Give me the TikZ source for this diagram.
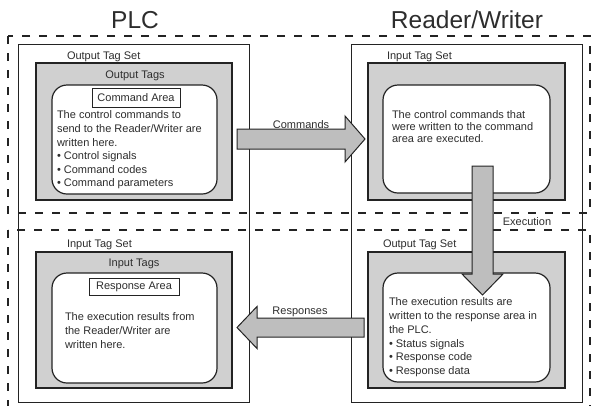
\documentclass[tikz,border=0pt]{standalone}
\usepackage{fontspec}
\setmainfont{Liberation Sans}
\usetikzlibrary{calc}
\definecolor{boxgray}{RGB}{208,208,208}
\definecolor{arrowgray}{RGB}{190,190,190}
\definecolor{txt}{RGB}{45,45,45}
\definecolor{ln}{RGB}{35,35,35}
\begin{document}
\begin{tikzpicture}[x=1pt,y=-1pt,
  every node/.style={inner sep=0pt, outer sep=0pt, text=txt},
  bodytext/.style={font=\fontsize{11}{13.6}\selectfont, align=left, anchor=north west},
  lbl/.style={font=\fontsize{11}{13}\selectfont, anchor=base west},
  ttl/.style={font=\fontsize{24.5}{28}\selectfont, anchor=base},
  tagset/.style={draw=ln, line width=0.8pt, anchor=north west},
  graybox/.style={draw=ln, fill=boxgray, line width=1.3pt, anchor=north west},
  roundbox/.style={draw=ln, fill=white, line width=1.2pt, rounded corners=15pt, anchor=north west},
  areabox/.style={draw=ln, fill=white, line width=1pt, font=\fontsize{11}{13}\selectfont},
  dashbox/.style={draw=ln, line width=1.1pt, dash pattern=on 8pt off 9pt},
  blockarrow/.style={draw=ln, fill=arrowgray, line width=1pt, line join=miter}]
\useasboundingbox (0,0) rectangle (593,405);
\clip (0,0) rectangle (593,405);
% titles
\node[ttl] (tplc) at (135,28) {PLC};
\node[ttl] (trw) at (467,28) {Reader/Writer};
% dashed boxes
\draw[dashbox] (8,36) rectangle (590,213);
\draw[dashbox] (8,230) rectangle (590,430);
% outer tag-set boxes
\node[tagset, minimum width=231pt, minimum height=358pt] (plcbox) at (18,44) {};
\node[tagset, minimum width=231pt, minimum height=358pt] (rwbox) at (351,44) {};
% labels
\node[lbl] (l1) at (67,59) {Output Tag Set};
\node[lbl] (l2) at (387,59) {Input Tag Set};
\node[lbl] (l3) at (67,247) {Input Tag Set};
\node[lbl] (l4) at (383,247) {Output Tag Set};
% gray boxes
\node[graybox, minimum width=196pt, minimum height=137pt] (tlg) at (36,63) {};
\node[graybox, minimum width=196pt, minimum height=136pt] (blg) at (36,252) {};
\node[graybox, minimum width=197pt, minimum height=137pt] (trg) at (368,63) {};
\node[graybox, minimum width=197pt, minimum height=136pt] (brg) at (368,252) {};
\node[lbl, anchor=base] (otags) at (135,78) {Output Tags};
\node[lbl, anchor=base] (itags) at (134,266) {Input Tags};
% rounded boxes
\node[roundbox, minimum width=165pt, minimum height=109pt] (tlr) at (52,85) {};
\node[roundbox, minimum width=165pt, minimum height=110pt] (blr) at (52,273) {};
\node[roundbox, minimum width=167pt, minimum height=108pt] (trr) at (383,85) {};
\node[roundbox, minimum width=167pt, minimum height=109pt] (brr) at (383,273) {};
% area boxes
\node[areabox, minimum width=88pt, minimum height=19pt] (cmdarea) at (136,97.5) {Command Area};
\node[areabox, minimum width=90pt, minimum height=17pt] (resarea) at (134,286.5) {Response Area};
% texts
\node[bodytext] (ttl1) at (57,111) {The control commands to\\send to the Reader/Writer are\\written here.\\• Control signals\\• Command codes\\• Command parameters};
\node[bodytext, font=\fontsize{11}{11.7}\selectfont] (ttr1) at (392,111) {The control commands that\\were written to the command\\area are executed.};
\node[bodytext, font=\fontsize{11}{14}\selectfont] (tbl1) at (65,313) {The execution results from\\the Reader/Writer are\\written here.};
\node[bodytext, font=\fontsize{11}{13.7}\selectfont] (tbr1) at (389,298) {The execution results are\\written to the response area in\\the PLC.\\• Status signals\\• Response code\\• Response data};
% arrows
\coordinate (cmdA) at (237,139);
\coordinate (cmdB) at (365,139);
\draw[blockarrow] ($(cmdA)+(0,-10)$) -- ($(cmdB)+(-20,-10)$) -- ($(cmdB)+(-20,-23)$) -- (cmdB)
  -- ($(cmdB)+(-20,23)$) -- ($(cmdB)+(-20,10)$) -- ($(cmdA)+(0,10)$) -- cycle;
\node[lbl, anchor=base] (cmdl) at (301,128) {Commands};
\coordinate (exA) at (482.5,166);
\coordinate (exB) at (482.5,295);
\draw[blockarrow] ($(exA)+(-10.5,0)$) -- ($(exB)+(-10.5,-21)$) -- ($(exB)+(-20.5,-21)$) -- (exB)
  -- ($(exB)+(20.5,-21)$) -- ($(exB)+(10.5,-21)$) -- ($(exA)+(10.5,0)$) -- cycle;
\node[lbl, anchor=base] (exl) at (527,225) {Execution};
\coordinate (rsA) at (364,327.5);
\coordinate (rsB) at (237,327.5);
\draw[blockarrow] ($(rsA)+(0,-9.5)$) -- ($(rsB)+(20,-9.5)$) -- ($(rsB)+(20,-21)$) -- (rsB)
  -- ($(rsB)+(20,21)$) -- ($(rsB)+(20,9.5)$) -- ($(rsA)+(0,9.5)$) -- cycle;
\node[lbl, anchor=base] (rsl) at (300,314) {Responses};
\end{tikzpicture}
\end{document}
